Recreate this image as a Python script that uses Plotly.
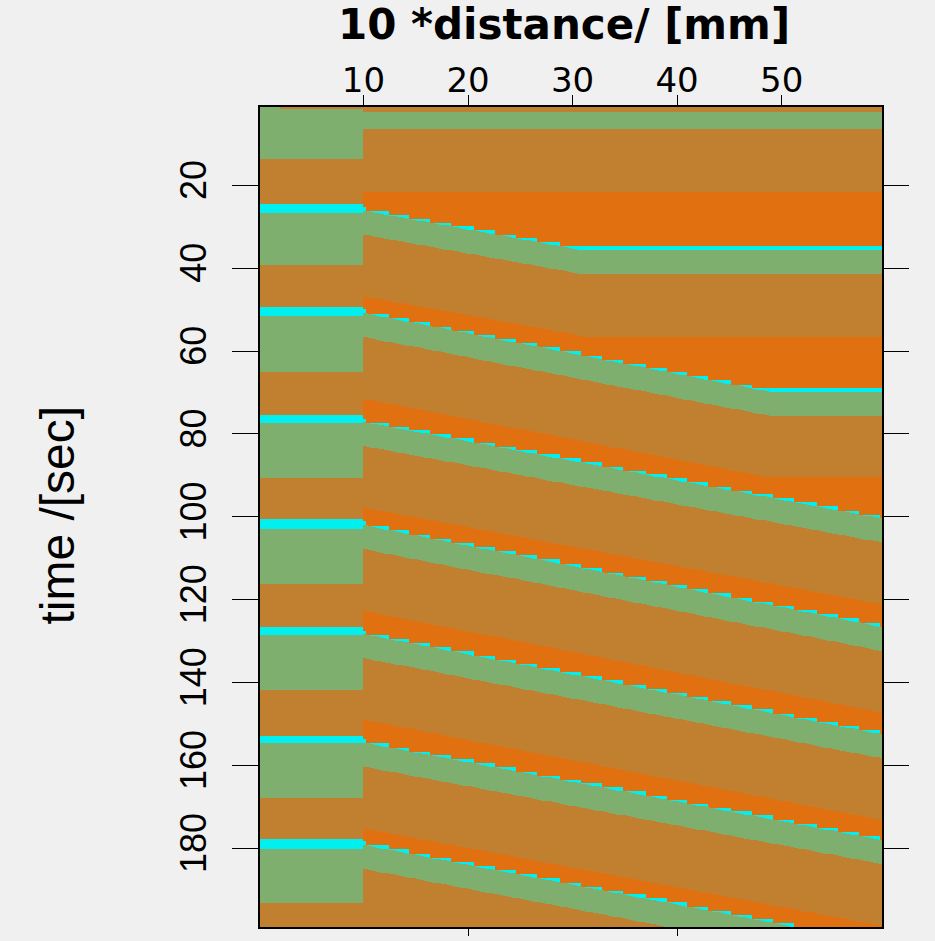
import numpy as np
import plotly.graph_objects as go

# ---------------- values ----------------
# state codes: 0 = green, 1 = brown, 2 = orange, 3 = cyan
state_colors = ["#7FAF6E", "#C08030", "#E07010", "#00F0F0"]

# left (pacemaker) zone, distance 0 .. 10
left_zone_end = 10.0
left_init_green_end = 13.6
left_top_strip_x0 = 2.0
left_top_strip_end = 1.6
left_cyan_start = [24.5, 49.2, 75.5, 100.4, 126.7, 152.9, 177.6]
left_cyan_end = [26.7, 51.5, 77.3, 102.8, 128.5, 154.5, 180.0]
left_green_end = [39.2, 65.1, 90.7, 116.3, 141.9, 167.8, 193.3]

# right zone, distance 10 .. 60 : travelling pulses and self firing
pulse_arrival_x10 = [25.2, 49.9, 76.2, 101.1, 127.4, 153.6, 178.3]
pulse_delay_per_unit = [0.455, 0.49, 0.47, 0.496, 0.488, 0.474, 0.48]
self_fire_times = [-0.2, 34.8, 68.9]
cyan_dur = 0.9
green_end_after = 6.7
brown_end_after = 21.6
right_top_brown_end = 2.2
step_width = 2.05
step_origin = 10.3

x_ticks = [10, 20, 30, 40, 50]
x_bottom_ticks = [20, 40]
y_ticks = [20, 40, 60, 80, 100, 120, 140, 160, 180]
x_range = [0.1, 59.6]
y_range = [199.0, 1.1]

# ---------------- build the state field ----------------
GREEN, BROWN, ORANGE, CYAN = 0, 1, 2, 3
xc = np.arange(0.1, 60.0, 0.2)
tc = np.arange(1.0, 199.3, 0.2)
X, T = np.meshgrid(xc, tc)
z = np.full(X.shape, ORANGE, dtype=np.int8)

right = X > left_zone_end
left = ~right

# right zone events
xr = step_origin + step_width * np.ceil((xc - step_origin) / step_width)
events = [(np.full_like(xc, self_fire_times[0]), np.full_like(xc, self_fire_times[0]))]
for i, (t10, s) in enumerate(zip(pulse_arrival_x10, pulse_delay_per_unit)):
    E = t10 + s * (xc - left_zone_end)
    Es = t10 + s * (xr - left_zone_end)
    if i + 1 < len(self_fire_times):
        E = np.minimum(E, self_fire_times[i + 1])
        Es = np.minimum(Es, self_fire_times[i + 1])
    events.append((E, Es - 0.05))

for E, Es in events:
    Eg = E[None, :]
    Esg = Es[None, :]
    brown = (T >= Eg + green_end_after) & (T < Eg + brown_end_after)
    green = (T >= Eg + cyan_dur) & (T < Eg + green_end_after)
    cyan = (T >= Esg) & (T < Eg + cyan_dur) & (T < Esg + 1.2)
    z[right & brown] = BROWN
    z[right & green] = GREEN
    z[right & cyan] = CYAN
z[right & (T < right_top_brown_end)] = BROWN

# left zone
z[left & (T < left_init_green_end)] = GREEN
z[left & (T >= left_init_green_end) & (T < left_cyan_start[0])] = BROWN
n = len(left_cyan_start)
for k in range(n):
    cs, ce, ge = left_cyan_start[k], left_cyan_end[k], left_green_end[k]
    nxt = left_cyan_start[k + 1] if k + 1 < n else 1e9
    z[left & (T >= cs) & (T < ce)] = CYAN
    z[left & (T >= ce) & (T < ge)] = GREEN
    z[left & (T >= ge) & (T < nxt)] = BROWN
z[left & (T < left_top_strip_end) & (X > left_top_strip_x0)] = BROWN

cs_scale = []
for i, c in enumerate(state_colors):
    lo = max(0.0, (i - 0.5) / 3)
    hi = min(1.0, (i + 0.5) / 3)
    cs_scale += [[lo, c], [hi, c]]

fig = go.Figure()
fig.add_trace(go.Heatmap(x=xc, y=tc, z=z, zmin=0, zmax=3, colorscale=cs_scale,
                         showscale=False, zsmooth=False, hoverinfo="skip"))
fig.add_trace(go.Scatter(x=[], y=[], xaxis="x2", yaxis="y2", showlegend=False))

axis_common = dict(showgrid=False, zeroline=False, tickcolor="black", tickwidth=1)
fig.update_layout(
    width=935, height=941,
    margin=dict(l=260, r=53, t=107, b=6),
    paper_bgcolor="#F0F0F0", plot_bgcolor="#F0F0F0",
    showlegend=False,
    xaxis=dict(side="top", range=x_range, tickvals=x_ticks, ticks="outside", ticklen=10,
               showline=True, linecolor="black", linewidth=2, mirror=True,
               tickfont=dict(family="DejaVu Sans", size=34, color="black"),
               ticklabelstandoff=-11, **axis_common),
    yaxis=dict(range=y_range, tickvals=y_ticks, ticks="outside", ticklen=26, tickangle=-90,
               showline=True, linecolor="black", linewidth=2, mirror=True,
               tickfont=dict(family="Liberation Sans", size=36, color="black"),
               ticklabelstandoff=12, **axis_common),
    xaxis2=dict(overlaying="x", side="bottom", range=x_range, tickvals=x_bottom_ticks,
                ticks="outside", ticklen=8, showticklabels=False, **axis_common),
    yaxis2=dict(overlaying="y", side="right", range=y_range, tickvals=y_ticks,
                ticks="outside", ticklen=26, showticklabels=False, **axis_common),
    annotations=[
        dict(text="<b>10 *distance/ [mm]</b>", xref="paper", yref="paper",
             x=0.489, y=1.1, xanchor="center", yanchor="middle", showarrow=False,
             font=dict(family="DejaVu Sans", size=42, color="black")),
        dict(text="time /[sec]", xref="paper", yref="paper", x=-0.326, y=0.502,
             xanchor="center", yanchor="middle", textangle=-90, showarrow=False,
             font=dict(family="Liberation Sans", size=48, color="black")),
    ],
)

fig.write_html("out.html")
